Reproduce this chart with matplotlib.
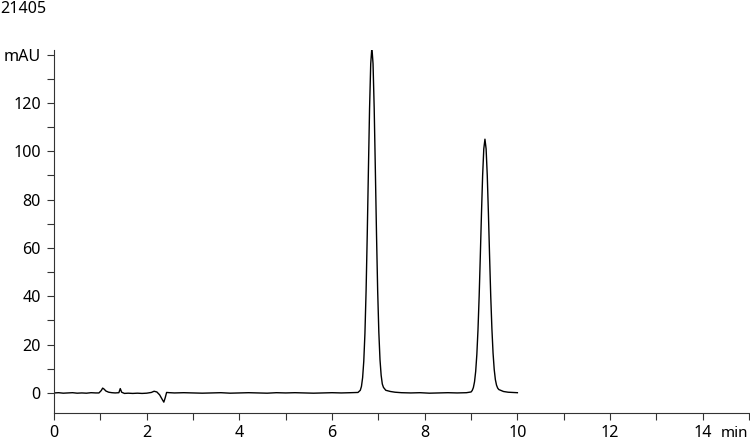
import matplotlib
matplotlib.use("Agg")
import matplotlib.pyplot as plt

plt.rcParams['font.family'] = ['Noto Sans', 'DejaVu Sans']

# --- data (time in min, signal in mAU) ---
time_min = [
    0.00, 0.10, 0.20, 0.30, 0.40, 0.50, 0.60, 0.70, 0.80, 0.90, 0.97,
    1.02, 1.05, 1.08, 1.12, 1.18, 1.25, 1.32, 1.40, 1.43, 1.46, 1.52,
    1.60, 1.70, 1.80, 1.90, 2.00, 2.10, 2.16, 2.22, 2.28, 2.33, 2.37,
    2.40, 2.43, 2.50, 2.60, 2.80, 3.00, 3.20, 3.40, 3.60, 3.80, 4.00,
    4.20, 4.40, 4.60, 4.80, 5.00, 5.20, 5.40, 5.60, 5.80, 6.00, 6.20,
    6.40, 6.56,
    6.61, 6.635, 6.66, 6.685, 6.71, 6.735, 6.76, 6.785, 6.81, 6.835,
    6.86, 6.885, 6.91, 6.935, 6.96, 6.985, 7.01, 7.035, 7.06, 7.085,
    7.11, 7.16, 7.26, 7.36, 7.50,
    7.70, 7.90, 8.10, 8.30, 8.50, 8.70, 8.90,
    9.00, 9.025, 9.05, 9.075, 9.10, 9.125, 9.15, 9.175, 9.20, 9.225,
    9.25, 9.275, 9.30, 9.325, 9.35, 9.375, 9.40, 9.425, 9.45, 9.475,
    9.50, 9.525, 9.55, 9.575, 9.60, 9.70, 9.80, 9.90, 10.00,
]
signal_mau = [
    0.0, 0.1, -0.1, 0.0, 0.1, -0.1, 0.0, -0.1, 0.1, 0.0, 0.0,
    1.0, 2.0, 1.6, 0.8, 0.3, 0.1, 0.0, 0.1, 1.8, 0.3, -0.2,
    -0.1, -0.2, -0.1, -0.2, -0.1, 0.2, 0.7, 0.4, -0.8, -2.5, -3.8,
    -2.0, 0.2, 0.1, 0.0, 0.1, 0.0, -0.1, 0.0, 0.1, -0.1, 0.0,
    0.1, 0.0, -0.1, 0.1, 0.0, 0.1, 0.0, -0.1, 0.0, 0.1, 0.0,
    0.1, 0.2,
    1.1, 2.7, 6.3, 13.1, 24.6, 42.2, 65.5, 92.1, 117.7, 136.2,
    143.0, 136.2, 117.7, 92.1, 65.5, 42.2, 25.1, 13.8, 7.3, 3.7,
    2.3, 1.1, 0.6, 0.3, 0.1,
    0.0, 0.1, -0.1, 0.0, 0.1, 0.0, 0.1,
    0.4, 1.0, 2.2, 4.6, 8.9, 15.9, 26.2, 40.0, 56.6, 74.2,
    90.0, 101.0, 105.0, 101.0, 90.0, 74.2, 56.6, 40.0, 26.6, 16.5,
    9.7, 5.5, 3.2, 2.0, 1.4, 0.6, 0.3, 0.2, 0.1,
]

x_major = [0, 2, 4, 6, 8, 10, 12, 14]
x_minor = [1, 3, 5, 7, 9, 11, 13, 15]
y_major = [0, 20, 40, 60, 80, 100, 120, 140]
y_major_labels = ['0', '20', '40', '60', '80', '100', '120', 'mAU']
y_minor = [10, 30, 50, 70, 90, 110, 130]
sample_id = '21405'
x_unit = 'min'

# --- figure ---
fig = plt.figure(figsize=(7.5, 4.4), dpi=100)
ax = fig.add_axes([54 / 750, 27 / 440, 696 / 750, 363 / 440])

ax.plot(time_min, signal_mau, color='black', lw=1.0, solid_joinstyle='round')

ax.set_xlim(0, 15.02)
ax.set_ylim(-8.3, 141.9)

ax.spines['top'].set_visible(False)
ax.spines['right'].set_visible(False)
axis_col = '#333333'
for s in ('left', 'bottom'):
    ax.spines[s].set_color(axis_col)
    ax.spines[s].set_linewidth(0.8)

ax.set_xticks(x_major)
ax.set_xticks(x_minor, minor=True)
ax.set_yticks(y_major)
ax.set_yticklabels(y_major_labels)
ax.set_yticks(y_minor, minor=True)

ax.tick_params(axis='both', which='both', direction='out', color=axis_col,
               width=0.8, labelsize=11.6, labelcolor='black')
ax.tick_params(axis='both', which='major', length=5)
ax.tick_params(axis='both', which='minor', length=5)
ax.tick_params(axis='y', pad=4.5)
ax.tick_params(axis='x', pad=3.5)

fig.text(748 / 750, 1 - 433 / 440, x_unit, fontsize=11.0, ha='right', va='center')
fig.text(0.0, 1 - 13 / 440, sample_id, fontsize=11.6, ha='left', va='baseline')

fig.savefig('out.png', dpi=100)
